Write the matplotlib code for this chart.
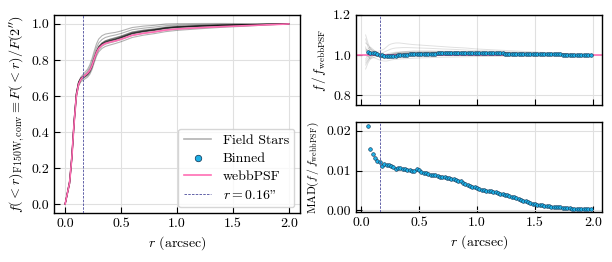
import numpy as np
import matplotlib
matplotlib.use("Agg")
import matplotlib.pyplot as plt

plt.rcParams['font.family'] = ['cmr10', 'DejaVu Serif']
plt.rcParams['mathtext.fontset'] = 'cm'
plt.rcParams['axes.unicode_minus'] = False
plt.rcParams['axes.formatter.use_mathtext'] = True

# ---------------- data ----------------
r_grid = [0.00, 0.02, 0.04, 0.06, 0.08, 0.10, 0.12, 0.14, 0.16, 0.18, 0.20, 0.22, 0.24,
          0.26, 0.28, 0.30, 0.33, 0.36, 0.40, 0.45, 0.50, 0.60, 0.70, 0.80, 0.90, 1.00,
          1.20, 1.40, 1.60, 1.80, 2.00]
f_psf = [0.000, 0.060, 0.120, 0.260, 0.450, 0.600, 0.665, 0.692, 0.705, 0.716, 0.726,
         0.742, 0.768, 0.805, 0.840, 0.864, 0.882, 0.892, 0.899, 0.906, 0.915, 0.937,
         0.948, 0.956, 0.966, 0.972, 0.979, 0.985, 0.990, 0.995, 1.000]

# field-star ratios f/f_webbPSF on r_grid[2:]
star_ratio_01 = [1.08, 1.04, 1.02, 1.015, 1.01, 1.005, 1.0, 0.998, 0.997, 0.997, 0.998, 1.0, 1.002, 1.004, 1.006, 1.008, 1.01, 1.012, 1.013, 1.014, 1.014, 1.013, 1.013, 1.012, 1.01, 1.008, 1.005, 1.003, 1.0]
star_ratio_02 = [0.95, 0.97, 0.99, 1.0, 1.005, 1.0, 0.995, 0.99, 0.988, 0.99, 0.993, 0.997, 1.0, 1.002, 1.004, 1.005, 1.006, 1.007, 1.008, 1.009, 1.01, 1.01, 1.01, 1.009, 1.008, 1.006, 1.004, 1.002, 1.0]
star_ratio_03 = [1.10, 1.06, 1.03, 1.02, 1.015, 1.01, 1.008, 1.01, 1.015, 1.02, 1.025, 1.03, 1.033, 1.035, 1.036, 1.037, 1.037, 1.036, 1.035, 1.033, 1.03, 1.028, 1.025, 1.022, 1.018, 1.013, 1.008, 1.004, 1.0]
star_ratio_04 = [0.93, 0.96, 0.98, 0.995, 1.0, 0.998, 0.99, 0.985, 0.982, 0.982, 0.985, 0.988, 0.99, 0.992, 0.994, 0.995, 0.996, 0.997, 0.998, 0.999, 1.0, 1.0, 1.0, 1.0, 1.0, 1.0, 1.0, 1.0, 1.0]
star_ratio_05 = [1.03, 1.02, 1.03, 1.02, 1.012, 1.008, 1.005, 1.0, 0.998, 0.998, 1.0, 1.003, 1.006, 1.01, 1.013, 1.016, 1.018, 1.02, 1.02, 1.02, 1.019, 1.018, 1.017, 1.016, 1.013, 1.01, 1.006, 1.003, 1.0]
star_ratio_06 = [0.98, 1.0, 1.01, 1.005, 0.998, 0.992, 0.99, 0.99, 0.993, 0.996, 0.999, 1.002, 1.004, 1.005, 1.006, 1.007, 1.008, 1.009, 1.01, 1.011, 1.011, 1.011, 1.011, 1.01, 1.009, 1.007, 1.005, 1.002, 1.0]
star_ratio_07 = [1.06, 1.05, 1.035, 1.025, 1.02, 1.018, 1.02, 1.025, 1.03, 1.04, 1.05, 1.055, 1.058, 1.06, 1.06, 1.058, 1.055, 1.052, 1.05, 1.046, 1.042, 1.038, 1.035, 1.03, 1.024, 1.018, 1.012, 1.006, 1.0]
star_ratio_08 = [0.97, 0.985, 1.0, 1.01, 1.008, 1.003, 0.998, 0.995, 0.993, 0.993, 0.995, 0.998, 1.0, 1.002, 1.003, 1.004, 1.005, 1.006, 1.007, 1.008, 1.008, 1.008, 1.008, 1.008, 1.007, 1.005, 1.004, 1.002, 1.0]
star_ratio_09 = [1.04, 1.0, 0.98, 0.985, 0.99, 0.995, 0.998, 1.0, 1.002, 1.005, 1.008, 1.01, 1.012, 1.014, 1.015, 1.016, 1.017, 1.018, 1.018, 1.018, 1.017, 1.016, 1.015, 1.014, 1.012, 1.009, 1.006, 1.003, 1.0]
star_ratio_10 = [0.96, 0.975, 0.99, 0.99, 0.985, 0.98, 0.975, 0.972, 0.97, 0.97, 0.972, 0.975, 0.977, 0.978, 0.98, 0.981, 0.982, 0.984, 0.985, 0.987, 0.989, 0.99, 0.991, 0.992, 0.994, 0.996, 0.997, 0.999, 1.0]
star_ratio_11 = [1.02, 1.03, 1.04, 1.03, 1.02, 1.01, 1.0, 0.995, 0.995, 0.998, 1.002, 1.006, 1.008, 1.01, 1.011, 1.012, 1.012, 1.012, 1.012, 1.012, 1.012, 1.012, 1.011, 1.011, 1.01, 1.008, 1.005, 1.003, 1.0]
star_ratio_12 = [1.0, 0.99, 1.0, 1.01, 1.015, 1.01, 1.003, 0.997, 0.995, 0.996, 0.998, 1.001, 1.004, 1.007, 1.009, 1.01, 1.011, 1.012, 1.013, 1.013, 1.013, 1.013, 1.012, 1.012, 1.01, 1.008, 1.005, 1.003, 1.0]
star_ratios = [star_ratio_01, star_ratio_02, star_ratio_03, star_ratio_04, star_ratio_05, star_ratio_06,
               star_ratio_07, star_ratio_08, star_ratio_09, star_ratio_10, star_ratio_11, star_ratio_12]

r_bin = [0.06, 0.08, 0.10, 0.12, 0.14, 0.16, 0.18, 0.20, 0.22, 0.24, 0.26, 0.28, 0.30, 0.32,
         0.34, 0.36, 0.38, 0.40, 0.42, 0.44, 0.46, 0.48, 0.50, 0.52, 0.54, 0.56, 0.58, 0.60,
         0.62, 0.64, 0.66, 0.68, 0.70, 0.72, 0.74, 0.76, 0.78, 0.80, 0.82, 0.84, 0.86, 0.88,
         0.90, 0.92, 0.94, 0.96, 0.98, 1.00, 1.02, 1.04, 1.06, 1.08, 1.10, 1.12, 1.14, 1.16,
         1.18, 1.20, 1.22, 1.24, 1.26, 1.28, 1.30, 1.32, 1.34, 1.36, 1.38, 1.40, 1.42, 1.44,
         1.46, 1.48, 1.50, 1.52, 1.54, 1.56, 1.58, 1.60, 1.62, 1.64, 1.66, 1.68, 1.70, 1.72,
         1.74, 1.76, 1.78, 1.80, 1.82, 1.84, 1.86, 1.88, 1.90, 1.92, 1.94, 1.96, 1.98]
ratio_bin = [1.016, 1.012, 1.012, 1.008, 1.006, 1.002, 0.998, 0.996, 0.995, 0.995, 0.995, 0.996,
             0.997, 0.998, 0.999, 1.000, 1.001, 1.002, 1.003, 1.003, 1.004, 1.004, 1.005, 1.005,
             1.006, 1.006, 1.006, 1.007, 1.007, 1.007, 1.008, 1.008, 1.008, 1.008, 1.008, 1.008,
             1.008, 1.008, 1.008, 1.008, 1.008, 1.008, 1.008, 1.008, 1.008, 1.008, 1.008, 1.008,
             1.008, 1.008, 1.008, 1.008, 1.008, 1.008, 1.008, 1.008, 1.008, 1.008, 1.008, 1.007,
             1.007, 1.007, 1.007, 1.007, 1.007, 1.006, 1.006, 1.006, 1.006, 1.006, 1.005, 1.005,
             1.005, 1.005, 1.004, 1.004, 1.004, 1.004, 1.004, 1.003, 1.003, 1.003, 1.003, 1.003,
             1.002, 1.002, 1.002, 1.002, 1.002, 1.001, 1.001, 1.001, 1.001, 1.001, 1.000, 1.000,
             1.000]
mad_bin = [0.0212, 0.0155, 0.0143, 0.0132, 0.0124, 0.0121, 0.0112, 0.0117, 0.0115, 0.0113,
           0.0111, 0.0108, 0.0104, 0.0107, 0.0106, 0.0104, 0.0105, 0.0102, 0.0101, 0.0099,
           0.0100, 0.0103, 0.0101, 0.0097, 0.0095, 0.0094, 0.0092, 0.0090, 0.0089, 0.0088,
           0.0087, 0.0085, 0.0084, 0.0083, 0.0082, 0.0081, 0.0080, 0.0079, 0.0077, 0.0075,
           0.0073, 0.0070, 0.0067, 0.0065, 0.0062, 0.0060, 0.0058, 0.0056, 0.0054, 0.0052,
           0.0051, 0.0050, 0.0049, 0.0048, 0.0047, 0.0046, 0.0044, 0.0042, 0.0041, 0.0040,
           0.0038, 0.0036, 0.0035, 0.0033, 0.0031, 0.0029, 0.0027, 0.0025, 0.0023, 0.0021,
           0.0019, 0.0017, 0.0016, 0.0014, 0.0013, 0.0013, 0.0012, 0.0011, 0.0011, 0.0010,
           0.0010, 0.0009, 0.0008, 0.0008, 0.0007, 0.0007, 0.0006, 0.0006, 0.0005, 0.0005,
           0.0005, 0.0004, 0.0004, 0.0004, 0.0003, 0.0003, 0.0003]
r_cut = 0.16

# ---------------- style ----------------
PINK = '#ff6eb4'
CYAN = '#1eb0e6'
EDGE = '#0b2d4d'
DASH = '#4b4b9b'
GRID = '0.88'

fig = plt.figure(figsize=(6.12, 2.62), dpi=100)
axL = fig.add_axes([0.0882, 0.187, 0.4018, 0.756])
axT = fig.add_axes([0.5817, 0.599, 0.4020, 0.344])
axB = fig.add_axes([0.5817, 0.189, 0.4020, 0.345])

r_grid = np.array(r_grid)
f_psf = np.array(f_psf)
r_s = r_grid[2:]

for i, sr in enumerate(star_ratios):
    sr = np.array(sr)
    fs = np.concatenate([[0.0], sr * f_psf[2:]])
    axL.plot(np.concatenate([[0.0], r_s]), fs, color='k', alpha=0.3, lw=0.8,
             label='Field Stars' if i == 0 else None, zorder=2)
    axT.plot(r_s, sr, color='k', alpha=0.12, lw=0.7, zorder=2)

axL.scatter([], [], s=22, color=CYAN, edgecolors=EDGE, linewidths=0.5, label='Binned')
axL.plot(r_grid, f_psf, color=PINK, lw=1.2, label='webbPSF', zorder=3)
axL.axvline(r_cut, color=DASH, ls='--', lw=0.6, dashes=(3, 1.5), label=r'$r = 0.16$"', zorder=4)

axT.axhline(1.0, color=PINK, lw=1.2, zorder=2.5)
axT.scatter(r_bin, ratio_bin, s=7, color=CYAN, edgecolors=EDGE, linewidths=0.4, zorder=4)
axT.axvline(r_cut, color=DASH, ls='--', lw=0.6, dashes=(3, 1.5), zorder=5)

axB.scatter(r_bin, mad_bin, s=7, color=CYAN, edgecolors=EDGE, linewidths=0.4, zorder=4)
axB.axvline(r_cut, color=DASH, ls='--', lw=0.6, dashes=(3, 1.5), zorder=5)

# axes
axL.set_xlim(-0.1, 2.1)
axL.set_ylim(-0.05, 1.05)
axL.set_xticks([0.0, 0.5, 1.0, 1.5, 2.0])
axL.set_yticks([0.0, 0.2, 0.4, 0.6, 0.8, 1.0])
axL.set_xlabel(r'$r$ (arcsec)', fontsize=10, labelpad=3)
axL.set_ylabel(r'$f(<r)_{\rm F150W,conv} \equiv F(<r)/F(2^{\prime\prime})$', fontsize=10.2, labelpad=3)

for ax in (axT, axB):
    ax.set_xlim(-0.043, 2.078)
    ax.set_xticks([0.0, 0.5, 1.0, 1.5, 2.0])
axT.set_ylim(0.75, 1.2)
axT.set_yticks([0.8, 1.0, 1.2])
axT.set_xticklabels([])
axT.set_ylabel(r'$f\,/\,f_{\rm webbPSF}$', fontsize=9.5)
axB.set_ylim(-0.0005, 0.0222)
axB.set_yticks([0.00, 0.01, 0.02])
axB.set_xlabel(r'$r$ (arcsec)', fontsize=10, labelpad=3)
axB.set_ylabel(r'${\rm MAD}(f\,/\,f_{\rm webbPSF})$', fontsize=8.3)

for ax in (axL, axT, axB):
    ax.grid(True, color=GRID, lw=0.8)
    ax.set_axisbelow(True)
    ax.tick_params(direction='in', length=4, width=0.8, labelsize=10)
    for s in ax.spines.values():
        s.set_linewidth(1.0)

axL.set_xticklabels(['0.0', '0.5', '1.0', '1.5', '2.0'])
axL.set_yticklabels(['0.0', '0.2', '0.4', '0.6', '0.8', '1.0'])
axT.set_yticklabels(['0.8', '1.0', '1.2'])
axB.set_yticklabels(['0.00', '0.01', '0.02'])
axB.set_xticklabels(['0.0', '0.5', '1.0', '1.5', '2.0'])

leg = axL.legend(loc='lower right', fontsize=10, handlelength=2.0,
                 borderpad=0.4, labelspacing=0.4, borderaxespad=0.4)
leg.legend_handles[0].set_alpha(0.3)
leg.legend_handles[0].set_linewidth(1.2)

fig.savefig('out.png', dpi=100)
